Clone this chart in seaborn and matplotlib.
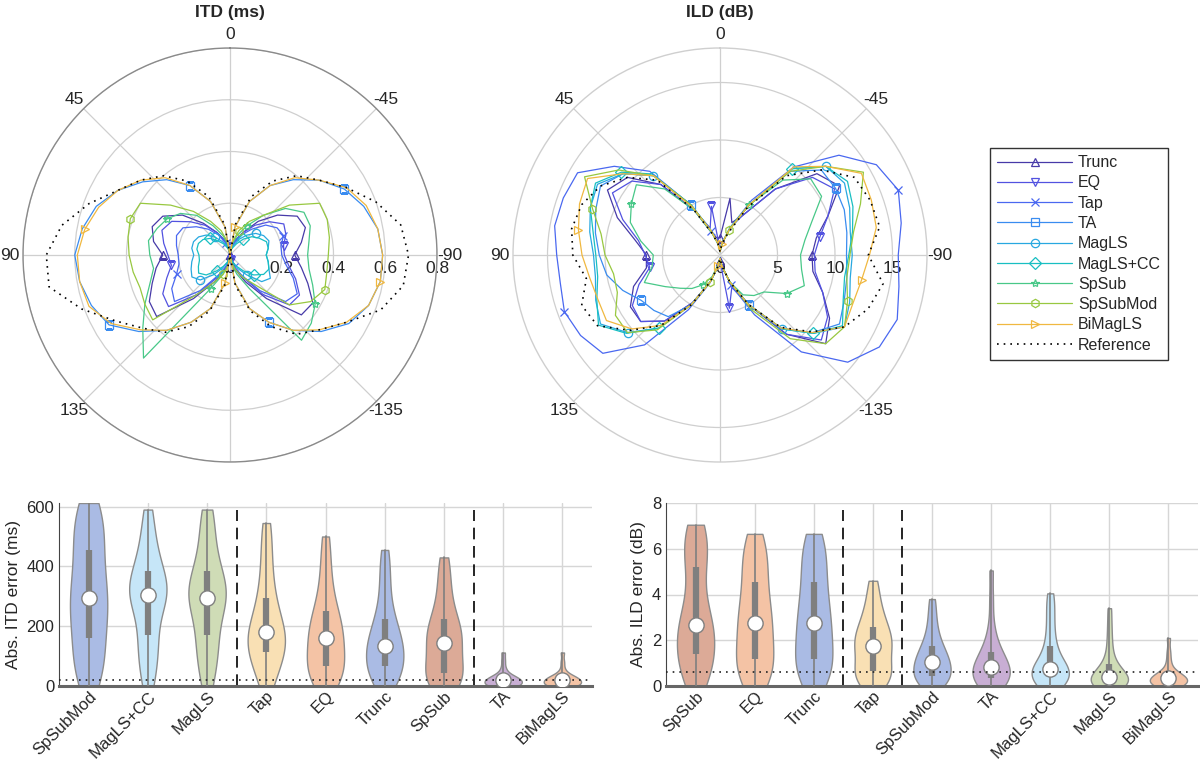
import numpy as np
import pandas as pd
import matplotlib
matplotlib.use('Agg')
import matplotlib.pyplot as plt
import matplotlib.transforms as mtransforms
import seaborn as sns

# ---------------------------------------------------------------
# Polar data: values every 10 deg, left half 0..180, right half -10..-170
# ---------------------------------------------------------------
methods = ['Trunc', 'EQ', 'Tap', 'TA', 'MagLS', 'MagLS+CC', 'SpSub', 'SpSubMod', 'BiMagLS']

# ITD (ms)
itd_trunc_left = [0.0, 0.03, 0.06, 0.10, 0.16, 0.24, 0.30, 0.32, 0.30, 0.26, 0.29, 0.32, 0.36, 0.37, 0.22, 0.12, 0.06, 0.03, 0.0]
itd_trunc_right = [0.03, 0.06, 0.10, 0.17, 0.24, 0.30, 0.31, 0.28, 0.25, 0.28, 0.32, 0.37, 0.36, 0.22, 0.12, 0.06, 0.03]
itd_eq_left = [0.0, 0.03, 0.06, 0.10, 0.15, 0.20, 0.26, 0.28, 0.26, 0.24, 0.23, 0.26, 0.30, 0.31, 0.20, 0.10, 0.05, 0.02, 0.0]
itd_eq_right = [0.03, 0.06, 0.10, 0.15, 0.20, 0.24, 0.23, 0.21, 0.21, 0.23, 0.27, 0.31, 0.30, 0.20, 0.10, 0.05, 0.02]
itd_tap_left = [0.0, 0.03, 0.05, 0.09, 0.13, 0.17, 0.21, 0.22, 0.21, 0.20, 0.20, 0.22, 0.26, 0.28, 0.18, 0.09, 0.05, 0.02, 0.0]
itd_tap_right = [0.03, 0.05, 0.09, 0.13, 0.18, 0.21, 0.22, 0.20, 0.20, 0.22, 0.26, 0.30, 0.28, 0.18, 0.09, 0.05, 0.02]
itd_ta_left = [0.0, 0.11, 0.22, 0.31, 0.38, 0.44, 0.50, 0.55, 0.58, 0.60, 0.59, 0.57, 0.54, 0.46, 0.38, 0.30, 0.22, 0.11, 0.0]
itd_ta_right = [0.11, 0.22, 0.31, 0.38, 0.45, 0.51, 0.55, 0.58, 0.59, 0.59, 0.57, 0.53, 0.46, 0.38, 0.30, 0.22, 0.11]
itd_magls_left = [0.0, 0.02, 0.04, 0.06, 0.09, 0.12, 0.14, 0.15, 0.15, 0.14, 0.15, 0.16, 0.17, 0.15, 0.10, 0.06, 0.03, 0.01, 0.0]
itd_magls_right = [0.02, 0.04, 0.07, 0.10, 0.13, 0.15, 0.16, 0.15, 0.14, 0.15, 0.16, 0.18, 0.16, 0.10, 0.06, 0.03, 0.01]
itd_maglscc_left = [0.0, 0.02, 0.03, 0.05, 0.07, 0.10, 0.12, 0.13, 0.13, 0.12, 0.12, 0.13, 0.14, 0.12, 0.08, 0.05, 0.03, 0.01, 0.0]
itd_maglscc_right = [0.02, 0.03, 0.05, 0.08, 0.11, 0.13, 0.15, 0.15, 0.14, 0.15, 0.16, 0.15, 0.12, 0.08, 0.05, 0.03, 0.01]
itd_spsub_left = [0.0, 0.04, 0.08, 0.13, 0.20, 0.25, 0.28, 0.30, 0.32, 0.31, 0.30, 0.33, 0.38, 0.44, 0.52, 0.15, 0.08, 0.04, 0.0]
itd_spsub_right = [0.04, 0.08, 0.13, 0.20, 0.28, 0.33, 0.33, 0.31, 0.30, 0.31, 0.34, 0.38, 0.41, 0.43, 0.15, 0.08, 0.04]
itd_spsubmod_left = [0.0, 0.05, 0.10, 0.15, 0.22, 0.30, 0.40, 0.41, 0.40, 0.39, 0.38, 0.37, 0.38, 0.39, 0.20, 0.12, 0.08, 0.04, 0.0]
itd_spsubmod_right = [0.05, 0.10, 0.15, 0.20, 0.30, 0.40, 0.40, 0.39, 0.38, 0.38, 0.39, 0.36, 0.30, 0.15, 0.10, 0.06, 0.03]
itd_bimagls_left = [0.0, 0.11, 0.22, 0.31, 0.39, 0.45, 0.50, 0.54, 0.57, 0.59, 0.59, 0.58, 0.53, 0.45, 0.38, 0.30, 0.22, 0.11, 0.0]
itd_bimagls_right = [0.11, 0.22, 0.31, 0.39, 0.45, 0.52, 0.56, 0.58, 0.59, 0.59, 0.57, 0.52, 0.45, 0.38, 0.30, 0.22, 0.11]
itd_ref_left = [0.0, 0.12, 0.24, 0.33, 0.40, 0.45, 0.50, 0.58, 0.66, 0.71, 0.71, 0.61, 0.51, 0.44, 0.39, 0.32, 0.23, 0.12, 0.0]
itd_ref_right = [0.12, 0.24, 0.33, 0.40, 0.45, 0.52, 0.60, 0.67, 0.69, 0.68, 0.62, 0.52, 0.45, 0.40, 0.32, 0.23, 0.12]

# ILD (dB)
ild_trunc_left = [1.5, 1.5, 2.0, 4.5, 8.0, 10.5, 11.3, 9.5, 7.5, 6.4, 6.5, 8.0, 9.0, 9.0, 7.5, 4.8, 2.5, 1.0, 0.5]
ild_trunc_right = [5.0, 3.0, 4.0, 7.5, 11.0, 12.0, 10.0, 8.5, 8.0, 8.2, 9.5, 11.0, 12.0, 9.0, 5.0, 2.5, 1.0]
ild_eq_left = [0.5, 4.3, 2.5, 4.5, 8.0, 10.0, 10.8, 9.0, 7.2, 6.5, 6.2, 7.5, 8.8, 9.0, 7.5, 4.8, 2.5, 1.0, 0.5]
ild_eq_right = [1.0, 2.5, 4.0, 7.5, 10.5, 11.5, 10.0, 8.8, 8.2, 8.4, 9.5, 10.8, 11.5, 9.0, 5.0, 3.0, 4.7]
ild_tap_left = [0.3, 1.0, 2.2, 5.0, 9.5, 12.0, 14.3, 14.5, 14.6, 14.2, 14.1, 14.4, 14.0, 13.3, 10.2, 5.5, 2.6, 1.0, 0.3]
ild_tap_right = [1.0, 2.5, 5.5, 10.0, 13.5, 15.7, 16.5, 16.0, 15.5, 15.8, 16.4, 16.0, 14.5, 11.0, 6.0, 2.8, 1.0]
ild_ta_left = [0.3, 1.0, 2.3, 5.0, 9.0, 11.0, 12.0, 11.5, 11.0, 10.5, 10.0, 9.0, 7.9, 7.5, 7.0, 5.0, 2.5, 1.0, 0.3]
ild_ta_right = [1.0, 2.3, 5.0, 9.5, 11.5, 11.6, 11.5, 11.2, 11.0, 11.2, 11.5, 12.0, 10.5, 8.3, 5.0, 2.5, 1.0]
ild_magls_left = [0.3, 1.0, 2.2, 5.0, 9.0, 11.0, 12.3, 12.0, 11.5, 11.0, 11.0, 11.5, 12.0, 10.5, 8.3, 5.0, 2.5, 1.0, 0.3]
ild_magls_right = [1.0, 2.3, 5.0, 9.8, 12.0, 12.5, 12.0, 11.5, 11.5, 11.5, 12.0, 12.5, 10.6, 8.4, 5.0, 2.5, 1.0]
ild_maglscc_left = [0.3, 1.0, 2.2, 5.0, 9.2, 11.2, 12.5, 12.0, 11.2, 10.8, 10.8, 11.4, 12.2, 10.6, 8.3, 5.0, 2.5, 1.0, 0.3]
ild_maglscc_right = [1.0, 2.3, 5.0, 9.8, 12.0, 12.8, 12.3, 11.7, 11.2, 11.0, 11.4, 12.3, 10.6, 8.4, 5.0, 2.5, 1.0]
ild_spsub_left = [0.3, 1.0, 2.0, 4.5, 7.5, 9.5, 8.9, 8.3, 7.0, 5.8, 6.0, 7.0, 5.5, 4.5, 3.8, 3.0, 2.0, 0.8, 0.3]
ild_spsub_right = [1.0, 2.5, 5.0, 8.5, 10.3, 10.2, 8.5, 7.5, 7.0, 7.2, 7.8, 6.7, 5.0, 4.6, 4.0, 2.5, 1.0]
ild_spsubmod_left = [0.3, 1.0, 2.2, 5.0, 9.0, 11.5, 13.6, 11.8, 10.5, 10.0, 9.4, 9.5, 10.5, 10.5, 8.5, 5.0, 2.5, 1.0, 0.3]
ild_spsubmod_right = [1.0, 2.3, 5.0, 9.5, 12.0, 14.4, 13.0, 11.8, 11.3, 11.2, 11.8, 12.5, 12.0, 9.5, 5.5, 2.5, 1.0]
ild_bimagls_left = [0.3, 1.0, 2.2, 4.8, 9.0, 11.0, 13.3, 13.0, 12.5, 12.0, 11.5, 11.3, 11.4, 10.0, 8.0, 5.0, 2.5, 1.0, 0.3]
ild_bimagls_right = [1.0, 2.3, 5.0, 10.0, 12.0, 14.2, 14.0, 13.8, 13.0, 12.5, 12.3, 12.5, 10.5, 8.3, 5.0, 2.5, 1.0]
ild_ref_left = [0.3, 1.0, 2.0, 4.5, 8.5, 10.5, 12.0, 12.8, 13.1, 12.8, 11.8, 12.8, 12.3, 10.2, 8.0, 5.0, 2.5, 1.0, 0.3]
ild_ref_right = [1.0, 2.0, 4.8, 9.0, 11.5, 13.5, 13.9, 14.1, 12.9, 14.4, 13.7, 12.5, 10.4, 8.2, 5.0, 2.5, 1.0]

# ---------------------------------------------------------------
# Violin data: absolute errors per method (samples read from shapes)
# ---------------------------------------------------------------
itd_order = ['SpSubMod', 'MagLS+CC', 'MagLS', 'Tap', 'EQ', 'Trunc', 'SpSub', 'TA', 'BiMagLS']
itd_err_spsubmod = [0, 30, 60, 90, 120, 160, 190, 220, 250, 270, 295, 320, 350, 380, 420, 455, 490, 520, 555, 585, 612]
itd_err_maglscc = [0, 40, 80, 120, 150, 170, 220, 260, 285, 300, 305, 315, 330, 345, 360, 385, 410, 440, 480, 530, 590]
itd_err_magls = [0, 45, 85, 120, 150, 170, 215, 250, 275, 290, 295, 310, 325, 340, 360, 385, 415, 450, 500, 550, 590]
itd_err_tap = [0, 30, 60, 85, 100, 113, 130, 145, 160, 170, 180, 195, 215, 240, 265, 295, 330, 380, 430, 490, 545]
itd_err_eq = [0, 15, 30, 45, 55, 68, 85, 105, 125, 145, 160, 175, 190, 210, 230, 250, 280, 320, 370, 430, 500]
itd_err_trunc = [0, 15, 30, 45, 55, 68, 85, 100, 115, 125, 135, 150, 165, 185, 205, 225, 255, 300, 350, 400, 455]
itd_err_spsub = [0, 8, 15, 25, 35, 45, 65, 90, 110, 130, 145, 160, 175, 190, 205, 225, 250, 290, 330, 380, 430]
itd_err_ta = [0, 1, 2, 3, 4, 5, 8, 11, 14, 17, 20, 22, 24, 26, 28, 30, 35, 45, 60, 85, 112]
itd_err_bimagls = [0, 1, 2, 3, 4, 5, 8, 11, 14, 17, 20, 22, 24, 26, 28, 30, 34, 40, 55, 80, 112]
itd_jnd = 20

ild_order = ['SpSub', 'EQ', 'Trunc', 'Tap', 'SpSubMod', 'TA', 'MagLS+CC', 'MagLS', 'BiMagLS']
ild_err_spsub = [0, 0.3, 0.6, 0.9, 1.15, 1.4, 1.7, 2.0, 2.25, 2.45, 2.65, 2.95, 3.3, 3.8, 4.5, 5.2, 5.6, 6.0, 6.4, 6.75, 7.05]
ild_err_eq = [0, 0.25, 0.5, 0.75, 1.0, 1.2, 1.5, 1.85, 2.2, 2.5, 2.75, 3.05, 3.35, 3.7, 4.1, 4.55, 5.0, 5.4, 5.8, 6.2, 6.65]
ild_err_trunc = [0, 0.3, 0.55, 0.8, 1.0, 1.2, 1.55, 1.9, 2.2, 2.5, 2.75, 3.05, 3.4, 3.75, 4.15, 4.55, 5.0, 5.45, 5.85, 6.25, 6.65]
ild_err_tap = [0, 0.15, 0.3, 0.45, 0.55, 0.65, 0.9, 1.15, 1.4, 1.6, 1.75, 1.9, 2.05, 2.2, 2.4, 2.6, 2.85, 3.15, 3.5, 4.0, 4.6]
ild_err_spsubmod = [0, 0.1, 0.2, 0.3, 0.38, 0.45, 0.6, 0.75, 0.85, 0.95, 1.05, 1.15, 1.3, 1.45, 1.6, 1.75, 2.0, 2.3, 2.7, 3.2, 3.8]
ild_err_ta = [0, 0.08, 0.15, 0.22, 0.28, 0.35, 0.45, 0.55, 0.65, 0.75, 0.85, 0.95, 1.05, 1.2, 1.35, 1.5, 1.75, 2.1, 2.7, 3.8, 5.05]
ild_err_maglscc = [0, 0.1, 0.18, 0.25, 0.32, 0.4, 0.5, 0.58, 0.64, 0.7, 0.75, 0.85, 1.0, 1.2, 1.45, 1.75, 2.1, 2.6, 3.1, 3.6, 4.05]
ild_err_magls = [0, 0.04, 0.08, 0.1, 0.12, 0.15, 0.2, 0.25, 0.3, 0.35, 0.4, 0.46, 0.55, 0.65, 0.8, 0.95, 1.2, 1.6, 2.1, 2.7, 3.4]
ild_err_bimagls = [0, 0.03, 0.05, 0.07, 0.09, 0.1, 0.15, 0.2, 0.25, 0.3, 0.35, 0.38, 0.41, 0.44, 0.47, 0.5, 0.6, 0.8, 1.1, 1.5, 2.1]
ild_jnd = 0.6

# ---------------------------------------------------------------
# Styles
# ---------------------------------------------------------------
line_colors = ['#473aa8', '#5252e0', '#4a68f0', '#3a8cf0', '#28a8e0', '#18bfc2', '#48c888', '#98c840', '#f0b840']
line_markers = ['^', 'v', 'x', 's', 'o', 'D', '*', 'h', '>']
fill_colors = {'Trunc': '#aabbe4', 'EQ': '#f4c3a5', 'Tap': '#f9e0b4', 'TA': '#c8aed4',
               'MagLS': '#cfdcb6', 'MagLS+CC': '#c6e6f8', 'SpSub': '#dcaa97',
               'SpSubMod': '#aabbe4', 'BiMagLS': '#f4c3a5'}

sns.set_style('white')
plt.rcParams['font.family'] = ['Liberation Sans', 'DejaVu Sans']

fig = plt.figure(figsize=(12, 7.63), dpi=100)

az = np.arange(0, 360, 10)


def full_circle(left, right):
    vals = list(left) + list(right)[::-1]
    return np.deg2rad(np.r_[az, 360]), np.r_[vals, vals[0]]


def polar_panel(rect, series, ref, rmax, rticks, rlabels, title, edge):
    ax = fig.add_axes(rect, projection='polar')
    ax.set_theta_zero_location('N')
    ax.set_theta_direction(1)
    ax.set_thetagrids([0, 45, 90, 135, 180, 225, 270, 315],
                      labels=['0', '45', '90', '135', '', '-135', '-90', '-45'])
    ax.set_rlim(0, rmax)
    ax.set_rticks(rticks)
    ax.set_yticklabels([])
    ax.grid(True, color='#cfcfcf', lw=0.9)
    ax.spines['polar'].set_color(edge)
    ax.spines['polar'].set_linewidth(1.0)
    ax.tick_params(axis='x', labelsize=12.5, pad=-1)
    off = mtransforms.ScaledTranslation(0, -0.06, fig.dpi_scale_trans)
    for rv, lab in zip(rticks, rlabels):
        ax.text(np.deg2rad(-90), rv, lab, ha='center', va='top', fontsize=12.5,
                transform=ax.transData + off, zorder=1)
    ax.text(0, 0, '0', ha='center', va='top', fontsize=12.5, transform=ax.transData + off, zorder=1)
    for k, (left, right) in enumerate(series):
        th, r = full_circle(left, right)
        ax.plot(th, r, color=line_colors[k], lw=0.9, marker=line_markers[k], ms=6,
                mfc='none', mew=0.9, markevery=[k, k + 9, k + 18, k + 27], label=methods[k],
                zorder=3)
    th, r = full_circle(*ref)
    ax.plot(th, r, color='black', lw=1.2, ls=(0, (1, 3)), label='Reference', zorder=4)
    fig.text(rect[0] + rect[2] / 2, 1 - 12 / 763, title, ha='center', va='center',
             fontsize=12.5, fontweight='bold')
    return ax


itd_series = [(itd_trunc_left, itd_trunc_right), (itd_eq_left, itd_eq_right),
              (itd_tap_left, itd_tap_right), (itd_ta_left, itd_ta_right),
              (itd_magls_left, itd_magls_right), (itd_maglscc_left, itd_maglscc_right),
              (itd_spsub_left, itd_spsub_right), (itd_spsubmod_left, itd_spsubmod_right),
              (itd_bimagls_left, itd_bimagls_right)]
ild_series = [(ild_trunc_left, ild_trunc_right), (ild_eq_left, ild_eq_right),
              (ild_tap_left, ild_tap_right), (ild_ta_left, ild_ta_right),
              (ild_magls_left, ild_magls_right), (ild_maglscc_left, ild_maglscc_right),
              (ild_spsub_left, ild_spsub_right), (ild_spsubmod_left, ild_spsubmod_right),
              (ild_bimagls_left, ild_bimagls_right)]

ax_itd = polar_panel([23 / 1200, 1 - 462 / 763, 414 / 1200, 414 / 763], itd_series,
                     (itd_ref_left, itd_ref_right), 0.8, [0.2, 0.4, 0.6, 0.8],
                     ['0.2', '0.4', '0.6', '0.8'], 'ITD (ms)', '#8a8a8a')
ax_ild = polar_panel([513 / 1200, 1 - 462 / 763, 414 / 1200, 414 / 763], ild_series,
                     (ild_ref_left, ild_ref_right), 18, [5, 10, 15],
                     ['5', '10', '15'], 'ILD (dB)', '#cfcfcf')

handles, labels = ax_itd.get_legend_handles_labels()
fig.legend(handles, labels, loc='upper left', bbox_to_anchor=(990 / 1200, 1 - 148 / 763),
           borderaxespad=0, frameon=True, fancybox=False, edgecolor='#333333', fontsize=11.5,
           handlelength=4.7, labelspacing=0.33, borderpad=0.45, handletextpad=0.35,
           framealpha=1)


# ---------------------------------------------------------------
# Violin panels
# ---------------------------------------------------------------
def violin_panel(rect, order, samples, ylim, yticks, ylabel, dash_pos, jnd):
    ax = fig.add_axes(rect)
    df = pd.DataFrame([(m, v) for m, vals in zip(order, samples) for v in vals],
                      columns=['method', 'value'])
    sns.violinplot(data=df, x='method', y='value', order=order, hue='method',
                   hue_order=order, palette=fill_colors, legend=False, inner=None,
                   cut=0, density_norm='width', width=0.63, bw_adjust=0.8,
                   linewidth=1.0, linecolor='#8c8c8c', saturation=1, ax=ax)
    for i, vals in enumerate(samples):
        v = np.asarray(vals, dtype=float)
        q1, med, q3 = np.percentile(v, [25, 50, 75])
        ax.plot([i, i], [v.min(), v.max()], color='#7f7f7f', lw=1.2, zorder=3)
        ax.plot([i, i], [q1, q3], color='#7f7f7f', lw=4.5, solid_capstyle='butt', zorder=4)
        ax.plot(i, med, 'o', ms=11, mfc='white', mec='#7f7f7f', mew=1.0, zorder=5)
    for xp in dash_pos:
        ax.axvline(xp, ymin=0, ymax=0.96, color='black', lw=1.2, ls=(0, (7, 4)), zorder=2)
    ax.axhline(jnd, color='#222222', lw=1.2, ls=(0, (1, 3)), zorder=6)
    ax.set_xlim(-0.5, len(order) - 0.5)
    ax.set_ylim(*ylim)
    ax.set_yticks(yticks)
    ax.set_xticks(range(len(order)))
    ax.set_xticklabels(order, rotation=45, ha='right', rotation_mode='anchor')
    ax.set_xlabel('')
    ax.set_ylabel(ylabel, fontsize=12.5)
    ax.grid(True, color='#d6d6d6', lw=1.0)
    ax.set_axisbelow(True)
    for s in ['top', 'right']:
        ax.spines[s].set_visible(False)
    ax.spines['bottom'].set_color('#666666')
    ax.spines['bottom'].set_linewidth(2.2)
    ax.spines['left'].set_color('#444444')
    ax.spines['left'].set_linewidth(0.8)
    ax.tick_params(axis='both', direction='in', length=4, color='#444444', labelsize=12)
    ax.tick_params(axis='x', length=0, pad=2)
    return ax


violin_panel([59 / 1200, 77 / 763, 533 / 1200, 183 / 763], itd_order,
             [itd_err_spsubmod, itd_err_maglscc, itd_err_magls, itd_err_tap, itd_err_eq,
              itd_err_trunc, itd_err_spsub, itd_err_ta, itd_err_bimagls],
             (0, 612), [0, 200, 400, 600], 'Abs. ITD error (ms)', [2.5, 6.5], itd_jnd)
violin_panel([666 / 1200, 77 / 763, 532 / 1200, 183 / 763], ild_order,
             [ild_err_spsub, ild_err_eq, ild_err_trunc, ild_err_tap, ild_err_spsubmod,
              ild_err_ta, ild_err_maglscc, ild_err_magls, ild_err_bimagls],
             (0, 8), [0, 2, 4, 6, 8], 'Abs. ILD error (dB)', [2.5, 3.5], ild_jnd)

fig.savefig('out.png', dpi=100)
